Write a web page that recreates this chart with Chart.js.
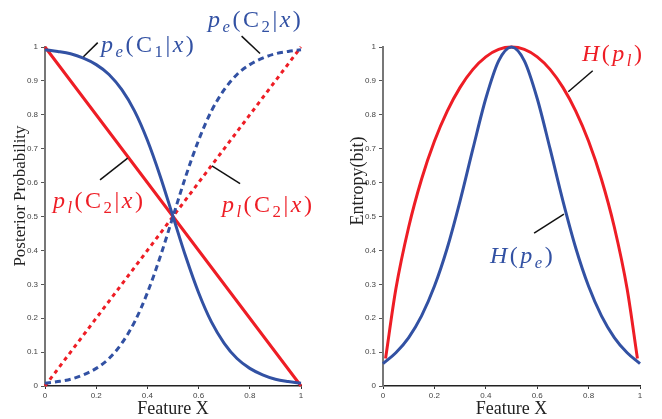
<!DOCTYPE html>
<html>
<head>
<meta charset="utf-8">
<script src="https://cdn.jsdelivr.net/npm/chart.js@4"></script>
<style>
  html, body { margin: 0; padding: 0; background: #fff; }
  #wrap { position: relative; width: 662px; height: 419px; }
  canvas { position: absolute; top: 0; }
</style>
</head>
<body>
<div id="wrap">
  <canvas id="left" width="330" height="419" style="left:0"></canvas>
  <canvas id="right" width="332" height="419" style="left:330px"></canvas>
</div>
<script>
// values
const xs = [0, 0.05, 0.1, 0.15, 0.2, 0.25, 0.3, 0.35, 0.4, 0.45, 0.5, 0.55, 0.6, 0.65, 0.7, 0.75, 0.8, 0.85, 0.9, 0.95, 1];
const peC2 = [0.008, 0.013, 0.02, 0.033, 0.052, 0.081, 0.126, 0.189, 0.275, 0.381, 0.5, 0.619, 0.725, 0.811, 0.874, 0.919, 0.948, 0.967, 0.98, 0.987, 0.992];
const peC1 = [0.992, 0.987, 0.98, 0.967, 0.948, 0.919, 0.874, 0.811, 0.725, 0.619, 0.5, 0.381, 0.275, 0.189, 0.126, 0.081, 0.052, 0.033, 0.02, 0.013, 0.008];
const plX = [0, 1];
const plC1 = [1, 0];
const plC2 = [0, 1];

const hX = xs;
const hPe = [0.066, 0.098, 0.143, 0.207, 0.294, 0.407, 0.546, 0.70, 0.848, 0.959, 1, 0.959, 0.848, 0.70, 0.546, 0.407, 0.294, 0.207, 0.143, 0.098, 0.066];
const hlX = [0.01, 0.05, 0.1, 0.15, 0.2, 0.25, 0.3, 0.35, 0.4, 0.45, 0.5, 0.55, 0.6, 0.65, 0.7, 0.75, 0.8, 0.85, 0.9, 0.95, 0.99];
const hPl = [0.081, 0.286, 0.469, 0.61, 0.722, 0.811, 0.881, 0.934, 0.971, 0.993, 1, 0.993, 0.971, 0.934, 0.881, 0.811, 0.722, 0.61, 0.469, 0.286, 0.081];

const yTicks = [0, 0.1, 0.2, 0.3, 0.4, 0.5, 0.6, 0.7, 0.8, 0.9, 1];
const xTicks = [0, 0.2, 0.4, 0.6, 0.8, 1];

const BLUE = '#3251a3';
const RED = '#ee1d25';

const pts = (xv, yv) => xv.map((x, i) => ({ x: x, y: yv[i] }));

function line(data, color, dash) {
  return {
    data: data,
    borderColor: color,
    borderWidth: 3,
    borderDash: dash || [],
    pointRadius: 0,
    cubicInterpolationMode: 'monotone',
    clip: false
  };
}

// math-like label: list of [text, italic, sub]
function mathText(ctx, parts, x, y, size, color) {
  ctx.fillStyle = color;
  ctx.textBaseline = 'alphabetic';
  ctx.textAlign = 'left';
  let cx = x;
  parts.forEach(([t, it, sub]) => {
    const s = sub ? size * 0.7 : size;
    ctx.font = (it ? 'italic ' : '') + s + 'px "Liberation Serif", "Times New Roman", serif';
    ctx.fillText(t, cx, sub ? y + size * 0.2 : y);
    cx += ctx.measureText(t).width + 2.5;
  });
}

const notes = {
  id: 'notes',
  afterDraw(chart, args, o) {
    const ctx = chart.ctx, sx = chart.scales.x, sy = chart.scales.y;
    ctx.save();
    ctx.strokeStyle = '#111';
    ctx.lineWidth = 1.5;
    o.leaders.forEach(l => {
      ctx.beginPath();
      ctx.moveTo(sx.getPixelForValue(l[0]), sy.getPixelForValue(l[1]));
      ctx.lineTo(sx.getPixelForValue(l[2]), sy.getPixelForValue(l[3]));
      ctx.stroke();
    });
    o.labels.forEach(l => mathText(ctx, l.parts, sx.getPixelForValue(l.x), sy.getPixelForValue(l.y), 24, l.color));
    // axis titles
    ctx.fillStyle = '#222';
    ctx.font = '18px "Liberation Serif", "Times New Roman", serif';
    ctx.textAlign = 'center';
    ctx.textBaseline = 'alphabetic';
    ctx.fillText(o.xTitle, (chart.chartArea.left + chart.chartArea.right) / 2, 414);
    ctx.translate(o.yTitleX, o.yTitleY);
    ctx.rotate(-Math.PI / 2);
    ctx.textBaseline = 'middle';
    ctx.font = o.yTitleSize + 'px "Liberation Serif", "Times New Roman", serif';
    ctx.fillText(o.yTitle, 0, 0);
    ctx.restore();
  }
};

function makeChart(id, datasets, yAxisW, padRight, noteOpts) {
  return new Chart(document.getElementById(id), {
    type: 'line',
    data: { datasets: datasets },
    plugins: [notes],
    options: {
      responsive: false,
      animation: false,
      devicePixelRatio: 1,
      layout: { padding: { top: 47, right: padRight, left: 0, bottom: 0 } },
      plugins: { legend: { display: false }, tooltip: { enabled: false }, notes: noteOpts },
      scales: {
        x: {
          type: 'linear', min: 0, max: 1,
          afterBuildTicks: s => { s.ticks = xTicks.map(v => ({ value: v })); },
          afterFit: s => { s.height = 33; },
          grid: { display: true, drawOnChartArea: false, drawTicks: true, tickLength: 3, color: '#333' },
          border: { display: true, color: '#222', width: 1.5 },
          ticks: { padding: 2, color: '#444', font: { family: 'Liberation Sans, Arial', size: 8 }, maxRotation: 0,
                   callback: v => String(+v.toFixed(1)) }
        },
        y: {
          type: 'linear', min: 0, max: 1,
          afterBuildTicks: s => { s.ticks = yTicks.map(v => ({ value: v })); },
          afterFit: s => { s.width = yAxisW; },
          grid: { display: true, drawOnChartArea: false, drawTicks: true, tickLength: 4, color: '#555' },
          border: { display: true, color: '#777', width: 2 },
          ticks: { padding: 3, color: '#444', font: { family: 'Liberation Sans, Arial', size: 8 },
                   callback: v => String(+v.toFixed(1)) }
        }
      }
    }
  });
}

makeChart('left', [
  line(pts(xs, peC1), BLUE),
  line(pts(xs, peC2), BLUE, [6, 4]),
  line(pts(plX, plC1), RED),
  line(pts(plX, plC2), RED, [4, 4])
], 45, 29, {
  xTitle: 'Feature X', yTitle: 'Posterior Probability', yTitleX: 21, yTitleY: 196, yTitleSize: 17,
  leaders: [[0.206, 1.013, 0.15, 0.971], [0.768, 1.032, 0.84, 0.981], [0.215, 0.608, 0.323, 0.672], [0.652, 0.649, 0.762, 0.597]],
  labels: [
    { x: 0.219, y: 0.985, color: BLUE, parts: [['p', 1], ['e', 1, 1], ['('], ['C'], ['1', 0, 1], ['|'], ['x', 1], [')']] },
    { x: 0.637, y: 1.059, color: BLUE, parts: [['p', 1], ['e', 1, 1], ['('], ['C'], ['2', 0, 1], ['|'], ['x', 1], [')']] },
    { x: 0.031, y: 0.525, color: RED, parts: [['p', 1], ['l', 1, 1], ['('], ['C'], ['2', 0, 1], ['|'], ['x', 1], [')']] },
    { x: 0.691, y: 0.513, color: RED, parts: [['p', 1], ['l', 1, 1], ['('], ['C'], ['2', 0, 1], ['|'], ['x', 1], [')']] }
  ]
});

makeChart('right', [
  line(pts(hX, hPe), BLUE),
  line(pts(hlX, hPl), RED)
], 53, 22, {
  xTitle: 'Feature X', yTitle: 'Entropy(bit)', yTitleX: 28, yTitleY: 181, yTitleSize: 18,
  leaders: [[0.816, 0.93, 0.721, 0.868], [0.588, 0.451, 0.704, 0.507]],
  labels: [
    { x: 0.774, y: 0.959, color: RED, parts: [['H', 1], ['('], ['p', 1], ['l', 1, 1], [')']] },
    { x: 0.416, y: 0.363, color: BLUE, parts: [['H', 1], ['('], ['p', 1], ['e', 1, 1], [')']] }
  ]
});
</script>
</body>
</html>
